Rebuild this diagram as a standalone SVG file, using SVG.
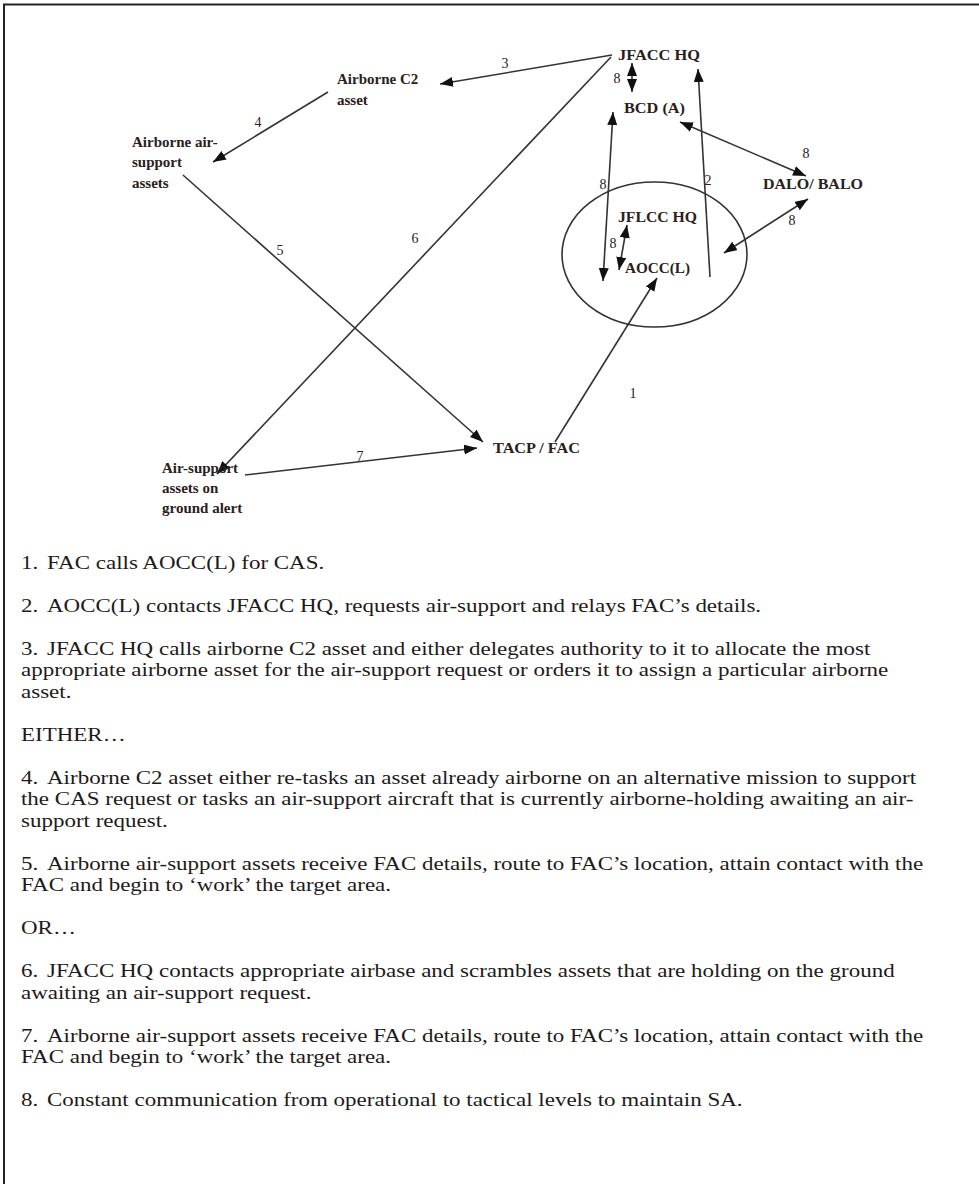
<svg xmlns="http://www.w3.org/2000/svg" width="979" height="1184" viewBox="0 0 979 1184">
<style>
.lbl{font-family:"Liberation Serif",serif;font-weight:bold;font-size:15px;fill:#2a2020}
.num{font-family:"Liberation Serif",serif;font-size:14px;fill:#2a2020}
.para{font-family:"Liberation Serif",serif;font-size:19px;fill:#1e1a1a}
.cn line{stroke:#333;stroke-width:1.6;fill:none}
.frame{stroke:#222;stroke-width:2;fill:none}
</style>
<defs>
<marker id="ah" markerUnits="userSpaceOnUse" markerWidth="14" markerHeight="11" refX="13" refY="5" orient="auto-start-reverse">
<path d="M0,0 L13,5 L0,10 z" fill="#111"/>
</marker>
</defs>
<rect width="979" height="1184" fill="#fff"/>
<path class="frame" d="M4,1184 V4.5 H979"/>

<g class="cn" id="connectors">
<line x1="555" y1="442" x2="657" y2="278" marker-end="url(#ah)"/>
<line x1="710" y1="277" x2="698" y2="69" marker-end="url(#ah)"/>
<line x1="612" y1="55" x2="440" y2="84" marker-end="url(#ah)"/>
<line x1="328" y1="92" x2="213" y2="162" marker-end="url(#ah)"/>
<line x1="183" y1="175" x2="483" y2="442" marker-end="url(#ah)"/>
<line x1="611" y1="57" x2="217" y2="474" marker-end="url(#ah)"/>
<line x1="245" y1="475" x2="477" y2="448" marker-end="url(#ah)"/>
<line x1="632" y1="63" x2="632" y2="92" marker-start="url(#ah)" marker-end="url(#ah)"/>
<line x1="613" y1="112" x2="603" y2="281" marker-start="url(#ah)" marker-end="url(#ah)"/>
<line x1="627" y1="225" x2="619" y2="270" marker-start="url(#ah)" marker-end="url(#ah)"/>
<line x1="680" y1="122" x2="806" y2="176" marker-start="url(#ah)" marker-end="url(#ah)"/>
<line x1="808" y1="199" x2="724" y2="253" marker-start="url(#ah)" marker-end="url(#ah)"/>
</g>

<g id="edge-labels">
<text class="num" x="505" y="68" text-anchor="middle">3</text>
<text class="num" x="258" y="127" text-anchor="middle">4</text>
<text class="num" x="280" y="255" text-anchor="middle">5</text>
<text class="num" x="415" y="243" text-anchor="middle">6</text>
<text class="num" x="360" y="461" text-anchor="middle">7</text>
<text class="num" x="633" y="398" text-anchor="middle">1</text>
<text class="num" x="708" y="185" text-anchor="middle">2</text>
<text class="num" x="617" y="83" text-anchor="middle">8</text>
<text class="num" x="603" y="189" text-anchor="middle">8</text>
<text class="num" x="613" y="248" text-anchor="middle">8</text>
<text class="num" x="806" y="158" text-anchor="middle">8</text>
<text class="num" x="792" y="225" text-anchor="middle">8</text>
</g>

<g id="jfacc-hq"><text class="lbl" x="618" y="60" textLength="82" lengthAdjust="spacingAndGlyphs">JFACC HQ</text></g>
<g id="bcd-a"><text class="lbl" x="624" y="113" textLength="61" lengthAdjust="spacingAndGlyphs">BCD (A)</text></g>
<g id="dalo-balo"><text class="lbl" x="763" y="189" textLength="100" lengthAdjust="spacingAndGlyphs">DALO/ BALO</text></g>
<g id="land-component">
<ellipse cx="654.5" cy="254.5" rx="92.5" ry="72.5" fill="none" stroke="#333" stroke-width="1.6"/>
<text class="lbl" x="618" y="222" textLength="79" lengthAdjust="spacingAndGlyphs">JFLCC HQ</text>
<text class="lbl" x="625" y="273" textLength="65" lengthAdjust="spacingAndGlyphs">AOCC(L)</text>
</g>
<g id="airborne-c2"><text class="lbl" x="337" y="84">Airborne C2</text><text class="lbl" x="337" y="105">asset</text></g>
<g id="airborne-air-support"><text class="lbl" x="132" y="147">Airborne air-</text><text class="lbl" x="132" y="167">support</text><text class="lbl" x="132" y="188">assets</text></g>
<g id="ground-alert"><text class="lbl" x="162" y="473">Air-support</text><text class="lbl" x="162" y="493">assets on</text><text class="lbl" x="162" y="513">ground alert</text></g>
<g id="tacp-fac"><text class="lbl" x="493" y="453" textLength="87" lengthAdjust="spacingAndGlyphs">TACP / FAC</text></g>

<g id="notes" class="para" transform="matrix(1.21,0,0,1,-4.41,0)">
<text x="21" y="569">1.<tspan x="42.5">FAC calls AOCC(L) for CAS.</tspan></text>
<text x="21" y="612">2.<tspan x="42.5">AOCC(L) contacts JFACC HQ, requests air-support and relays FAC’s details.</tspan></text>
<text x="21" y="655">3.<tspan x="42.5">JFACC HQ calls airborne C2 asset and either delegates authority to it to allocate the most</tspan></text>
<text x="21" y="676.5">appropriate airborne asset for the air-support request or orders it to assign a particular airborne</text>
<text x="21" y="698">asset.</text>
<text x="21" y="741">EITHER…</text>
<text x="21" y="784">4.<tspan x="42.5">Airborne C2 asset either re-tasks an asset already airborne on an alternative mission to support</tspan></text>
<text x="21" y="805.5">the CAS request or tasks an air-support aircraft that is currently airborne-holding awaiting an air-</text>
<text x="21" y="827">support request.</text>
<text x="21" y="870">5.<tspan x="42.5">Airborne air-support assets receive FAC details, route to FAC’s location, attain contact with the</tspan></text>
<text x="21" y="891.5">FAC and begin to ‘work’ the target area.</text>
<text x="21" y="934.5">OR…</text>
<text x="21" y="977.5">6.<tspan x="42.5">JFACC HQ contacts appropriate airbase and scrambles assets that are holding on the ground</tspan></text>
<text x="21" y="999">awaiting an air-support request.</text>
<text x="21" y="1042">7.<tspan x="42.5">Airborne air-support assets receive FAC details, route to FAC’s location, attain contact with the</tspan></text>
<text x="21" y="1063.5">FAC and begin to ‘work’ the target area.</text>
<text x="21" y="1106.5">8.<tspan x="42.5">Constant communication from operational to tactical levels to maintain SA.</tspan></text>
</g>
</svg>
